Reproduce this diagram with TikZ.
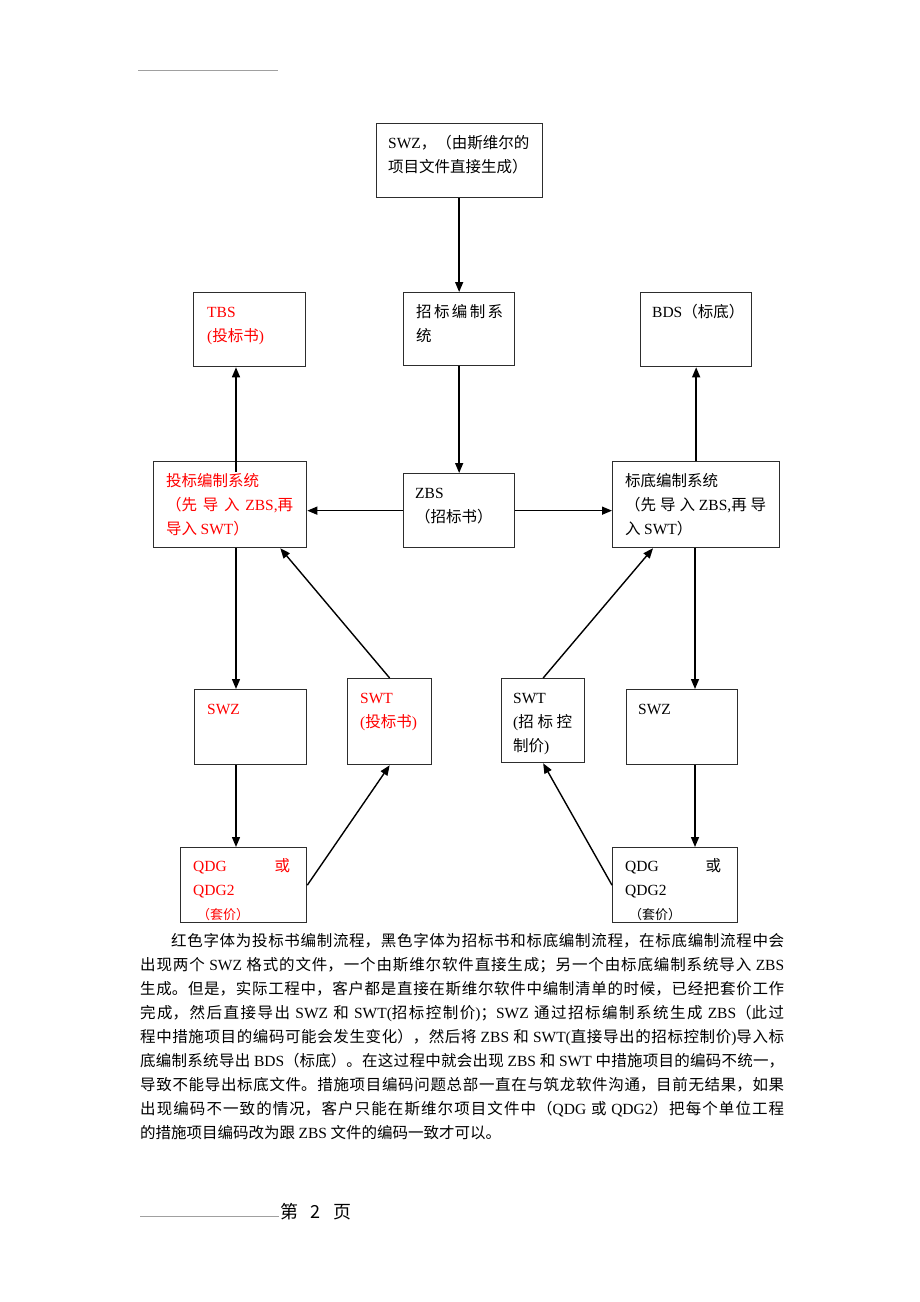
\documentclass[tikz,border=0pt]{standalone}
\usepackage{fontspec}
\setmainfont{Noto Sans CJK SC}
\newfontfamily\LSf{Liberation Serif}
\newcommand\LS[1]{{\LSf #1}}
\usetikzlibrary{arrows.meta,calc}
\definecolor{redtxt}{RGB}{255,0,0}
\definecolor{boxline}{RGB}{45,45,45}
\definecolor{rulegray}{RGB}{160,160,160}
\XeTeXlinebreaklocale "zh"
\XeTeXlinebreakskip=0pt plus 1.5pt
\tikzset{
  box/.style={draw=boxline, line width=1.3pt, inner sep=0pt, fill=none},
  txt/.style={inner sep=0pt, font=\fontsize{15.5}{24}\selectfont, anchor=base west},
  arr/.style={draw=black, line width=1.4pt, -{Triangle[length=10pt,width=8pt]}},
  hrule/.style={draw=rulegray, line width=0.6pt}
}
\newcommand\mkbox[5]{\node[box, minimum width={#4-#2}, minimum height={#5-#3}, anchor=north west] (#1) at (#2,#3) {};}
\newcommand\btext[4]{\node[txt, text=#1] (#2-t) at ($(#2.north west)+(#3)$) {#4};}
\begin{document}
\begin{tikzpicture}[x=1pt,y=-1pt]
\useasboundingbox (0,0) rectangle (920,1302);
\fill[white] (0,0) rectangle (920,1302);
% header / footer
\coordinate (h1) at (138,70); \coordinate (h2) at (278,70);
\draw[hrule] (h1) -- (h2);
\coordinate (f1) at (140,1216); \coordinate (f2) at (279,1216);
\draw[hrule] (f1) -- (f2);
\node[inner sep=0pt, anchor=base west, font=\fontsize{18}{20}\selectfont] (footer) at (280,1218) {第\hspace{12pt}2\hspace{13pt}页};
% boxes
\mkbox{top}{376}{123}{542}{197}
\mkbox{zbx}{403}{292}{514}{365}
\mkbox{tbs}{193}{292}{305}{366}
\mkbox{bds}{640}{292}{751}{366}
\mkbox{tb}{153}{461}{306}{547}
\mkbox{zbs}{403}{473}{514}{547}
\mkbox{bd}{612}{461}{779}{547}
\mkbox{lswz}{194}{689}{306}{764}
\mkbox{lswt}{347}{678}{431}{764}
\mkbox{lqdg}{180}{847}{306}{922}
\mkbox{rswt}{501}{678}{584}{762}
\mkbox{rswz}{626}{689}{737}{764}
\mkbox{rqdg}{612}{847}{737}{922}
% texts
\btext{black}{top}{12,25}{\vtop{\hbox{\LS{SWZ}，（由斯维尔的}\hbox{项目文件直接生成）}}}
\btext{black}{zbx}{13,25}{\vtop{\hbox{\makebox[87pt][s]{招\hfil 标\hfil 编\hfil 制\hfil 系}}\hbox{统}}}
\btext{redtxt}{tbs}{14,25}{\vtop{\hbox{\LS{TBS}}\hbox{\LS{(}投标书\LS{)}}}}
\btext{black}{bds}{12,25}{\LS{BDS}（标底）}
\btext{redtxt}{tb}{13,25}{\vtop{\hbox{投标编制系统}\hbox{\makebox[127pt][s]{（先\hfil 导\hfil 入\hfil\LS{ZBS,}再}}\hbox{导入 \LS{SWT}）}}}
\btext{black}{zbs}{12,25}{\vtop{\hbox{\LS{ZBS}}\hbox{（招标书）}}}
\btext{black}{bd}{13,25}{\vtop{\hbox{标底编制系统}\hbox{\makebox[141pt][s]{（先\hfil 导\hfil 入\hfil\LS{ZBS,}再\hfil 导}}\hbox{入 \LS{SWT}）}}}
\btext{redtxt}{lswz}{13,25}{\LS{SWZ}}
\btext{redtxt}{lswt}{13,25}{\vtop{\hbox{\LS{SWT}}\hbox{\LS{(}投标书\LS{)}}}}
\btext{redtxt}{lqdg}{13,24}{\vtop{\hbox{\makebox[97pt][s]{\LS{QDG}\hfill 或}}\hbox{\LS{QDG2}}\hbox{\fontsize{13}{14}\selectfont\hspace{4pt}（套价）}}}
\btext{black}{rswt}{12,25}{\vtop{\hbox{\LS{SWT}}\hbox{\makebox[59pt][s]{\LS{(}招\hfil 标\hfil 控}}\hbox{制价\LS{)}}}}
\btext{black}{rswz}{12,25}{\LS{SWZ}}
\btext{black}{rqdg}{13,24}{\vtop{\hbox{\makebox[96pt][s]{\LS{QDG}\hfill 或}}\hbox{\LS{QDG2}}\hbox{\fontsize{13}{14}\selectfont\hspace{4pt}（套价）}}}
% connector columns
\coordinate (L) at (236,0);
\coordinate (R) at (695,0);
% connectors
\draw[arr] (zbx.north |- top.south) -- (zbx.north);
\draw[arr] (zbx.south) -- (zbs.north);
\draw[arr] (zbs.west) -- (zbs.west -| tb.east);
\draw[arr] (zbs.east) -- (zbs.east -| bd.west);
\draw[arr] ([yshift=-11pt]L |- tb.north) -- (L |- tbs.south);
\draw[arr] (bd.north) -- (bds.south);
\draw[arr] (L |- tb.south) -- (L |- lswz.north);
\draw[arr] (L |- lswz.south) -- (L |- lqdg.north);
\draw[arr] (lqdg.east) -- (lswt.south);
\draw[arr] (lswt.north) -- ($(tb.south east)+(-27,0)$);
\draw[arr] (rswt.north) -- ($(bd.south west)+(41,0)$);
\draw[arr] (R |- bd.south) -- (R |- rswz.north);
\draw[arr] (R |- rswz.south) -- (R |- rqdg.north);
\draw[arr] (rqdg.west) -- (rswt.south);
% paragraph
\node[anchor=north west, inner sep=0pt, text width=644pt, align=justify, font=\fontsize{15.5}{24}\selectfont] (para) at (140,933) {%
\hspace*{31pt}红色字体为投标书编制流程，黑色字体为招标书和标底编制流程，在标底编制流程中会\linebreak
出现两个 \LS{SWZ} 格式的文件，一个由斯维尔软件直接生成；另一个由标底编制系统导入 \LS{ZBS}\linebreak
生成。但是，实际工程中，客户都是直接在斯维尔软件中编制清单的时候，已经把套价工作\linebreak
完成，然后直接导出 \LS{SWZ} 和 \LS{SWT(}招标控制价\LS{)}；\LS{SWZ} 通过招标编制系统生成 \LS{ZBS}（此过\linebreak
程中措施项目的编码可能会发生变化），然后将 \LS{ZBS} 和 \LS{SWT(}直接导出的招标控制价\LS{)}导入标\linebreak
底编制系统导出 \LS{BDS}（标底）。在这过程中就会出现 \LS{ZBS} 和 \LS{SWT} 中措施项目的编码不统一，\linebreak
导致不能导出标底文件。措施项目编码问题总部一直在与筑龙软件沟通，目前无结果，如果\linebreak
出现编码不一致的情况，客户只能在斯维尔项目文件中（\LS{QDG} 或 \LS{QDG2}）把每个单位工程\linebreak
的措施项目编码改为跟 \LS{ZBS} 文件的编码一致才可以。};
\end{tikzpicture}
\end{document}
